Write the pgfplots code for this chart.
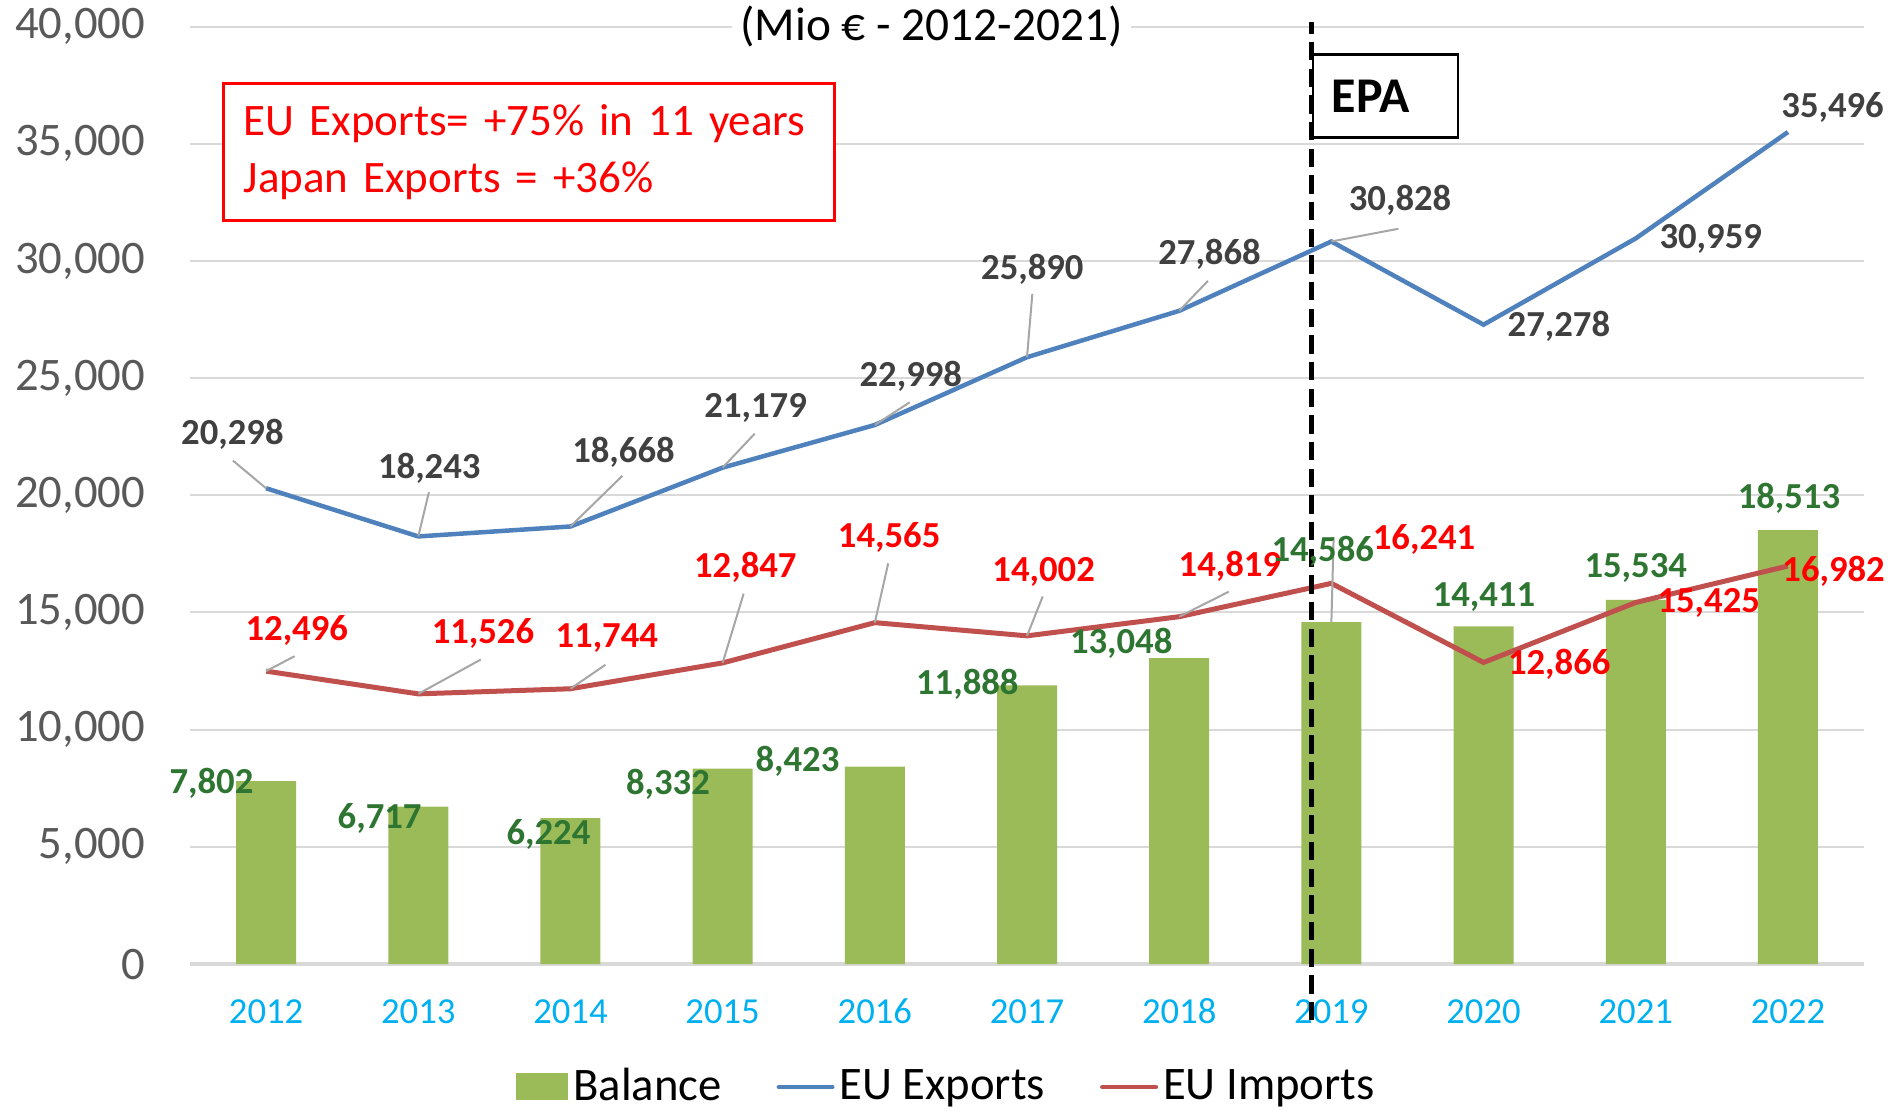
\documentclass[border=0pt]{standalone}
\usepackage{fontspec}
\setmainfont{Carlito}
\usepackage{pgfplots}
\usepackage{pgfplotstable}
\pgfplotsset{compat=1.18}

\definecolor{balgreen}{RGB}{155,187,89}
\definecolor{expblue}{RGB}{79,129,189}
\definecolor{impred}{RGB}{192,80,77}
\definecolor{labgreen}{RGB}{46,117,50}
\definecolor{labgray}{RGB}{64,64,64}
\definecolor{tickgray}{RGB}{89,89,89}
\definecolor{yearcyan}{RGB}{0,176,240}
\definecolor{gridgray}{RGB}{217,217,217}
\definecolor{leadgray}{RGB}{166,166,166}

% year index, value, label offset (dx,dy in pt), leader line (u,v in axis units)
\pgfplotstableread{
x  y      dx     dy     u       v
0  20298  -10.1  16.1   -0.218  1182
1  18243  3.3    20.5   0.070   1891
2  18668  15.9   22.2   0.341   2162
3  21179  9.9    17.9   0.211   1451
4  22998  10.8   14.6   0.229   967
5  25890  1.6    26.3   0.035   2702
6  27868  9.1    17.1   0.189   1280
7  30828  20.6   12.2   0.440   542
8  27278  22.6   -0.4   0       0
9  30959  22.5   -0.3   0       0
10 35496  13.4   7.5    0       0
}\exports

\pgfplotstableread{
x  y      dx     dy     u       v
0  12496  9.2    12.1   0.188   640
1  11526  19.4   18.1   0.411   1465
2  11744  10.9   15.2   0.230   1024
3  12847  6.8    28.6   0.138   2958
4  14565  4.3    25.5   0.088   2532
5  14002  5.0    19.3   0.103   1678
6  14819  15.2   15.0   0.326   1067
7  16241  27.8   13.3   0       0
8  12866  22.7   -0.7   0       0
9  15425  21.9   -0.1   0       0
10 16982  13.7   -1.6   0       0
}\imports

\pgfplotstableread{
x  y      dx     dy     u       v
0  7802   -16.4  -0.5   0       0
1  6717   -11.6  -3.6   0       0
2  6224   -6.6   -4.9   0       0
3  8332   -16.4  -4.8   0       0
4  8423   -23.2  1.6    0       0
5  11888  -17.9  0.2    0       0
6  13048  -17.4  4.6    0       0
7  14586  -2.6   21.3   0.015   3627
8  14411  0.1    8.8    0       0
9  15534  0      9.6    0       0
10 18513  0.3    9.6    0       0
}\balance

\pgfplotsset{
  datalabels/.style={
    nodes near coords,
    visualization depends on={\thisrow{dx} \as \labdx},
    visualization depends on={\thisrow{dy} \as \labdy},
    every node near coord/.append style={anchor=center, xshift=\labdx pt, yshift=\labdy pt,
      font=\fontsize{11}{13}\selectfont\bfseries, text=#1},
  },
  leaders/.style={forget plot, draw=leadgray, line width=0.6pt, mark=none,
    quiver={u=\thisrow{u}, v=\thisrow{v}}},
}

\begin{document}
\begin{tikzpicture}
\begin{axis}[
  scale only axis, width=502.2pt, height=281.25pt,
  clip=false,
  xmin=-0.5, xmax=10.5, ymin=0, ymax=40000,
  xtick={0,...,10},
  xticklabels={2012,2013,2014,2015,2016,2017,2018,2019,2020,2021,2022},
  ytick={0,5000,...,40000},
  scaled y ticks=false,
  separate axis lines,
  axis x line*=bottom, axis y line*=left,
  x axis line style={gridgray, line width=1pt},
  y axis line style={draw=none},
  major tick length=0pt,
  ymajorgrids, grid style={gridgray, line width=0.6pt},
  /pgf/number format/fixed, /pgf/number format/precision=0,
  /pgf/number format/1000 sep={,},
  /pgf/number format/assume math mode=true,
  yticklabel style={font=\fontsize{14}{16}\selectfont, text=tickgray, anchor=east, inner sep=0pt, xshift=-13.3pt},
  xticklabel style={font=\fontsize{11}{13}\selectfont, text=yearcyan, anchor=center, inner sep=0pt, yshift=-14.2pt},
  legend style={at={(0.4528,0)}, anchor=center, yshift=-36.9pt, draw=none, fill=none,
    legend columns=-1, font=\fontsize{14}{16}\selectfont,
    /tikz/every even column/.append style={column sep=15pt},
    nodes={inner xsep=1.5pt}},
  legend cell align=left,
]
\addplot[ybar, bar width=18pt, fill=balgreen, draw=none,
  legend image code/.code={\fill[balgreen] (0pt,-4pt) rectangle (15.6pt,4.1pt);}]
  table[x=x, y=y] {\balance};
\addlegendentry{Balance}

\addplot[expblue, line width=1.35pt, datalabels=labgray,
  legend image code/.code={\draw[expblue, line width=1.4pt, line cap=round] (0pt,0pt) -- (16pt,0pt);}]
  table[x=x, y=y] {\exports};
\addlegendentry{EU Exports}

\addplot[impred, line width=1.5pt, datalabels=red,
  legend image code/.code={\draw[impred, line width=1.4pt, line cap=round] (0pt,0pt) -- (16pt,0pt);}]
  table[x=x, y=y] {\imports};
\addlegendentry{EU Imports}

% labels of the bars and leader lines
\addplot[forget plot, draw=none, mark=none, datalabels=labgreen] table[x=x, y=y] {\balance};
\addplot[leaders] table[x=x, y=y] {\exports};
\addplot[leaders] table[x=x, y=y] {\imports};
\addplot[leaders] table[x=x, y=y] {\balance};

% EPA marker
\node[draw=black, line width=0.8pt, anchor=north west, minimum height=24.9pt,
  inner xsep=5.7pt, text width=32.1pt, align=left,
  font=\fontsize{15}{18}\selectfont\bfseries] at (axis cs:6.87,38870) {EPA};
\draw[black, line width=1.3pt, dash pattern=on 5.5pt off 2.5pt]
  (axis cs:6.87,-2400) -- (axis cs:6.87,40200);

% note box and title
\node[draw=red, line width=1pt, fill=white, anchor=north west, inner xsep=6.2pt,
  text width=171pt, minimum height=41.1pt, align=left, text=red,
  font=\fontsize{13.5}{17}\selectfont] at (axis cs:-0.293,37630)
  {EU Exports= +75\% in 11 years\\Japan Exports = +36\%};
\node[fill=white, inner xsep=2.5pt, inner ysep=1pt, font=\fontsize{14.2}{16}\selectfont]
  at (axis cs:4.372,40000) {(Mio € - 2012-2021)};

\coordinate (bbSW) at (rel axis cs:0,0);
\coordinate (bbNE) at (rel axis cs:1,1);
\end{axis}
\pgfresetboundingbox
\path ([shift={(-57pt,-43.8pt)}]bbSW) rectangle ([shift={(7.2pt,7.95pt)}]bbNE);
\end{tikzpicture}
\end{document}
